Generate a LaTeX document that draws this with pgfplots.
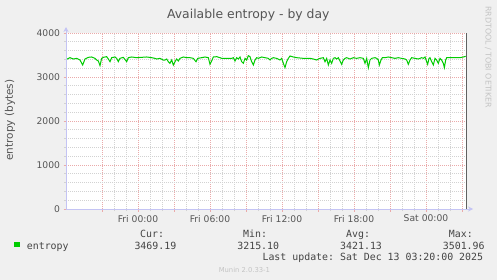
\documentclass[border=0pt]{standalone}
\usepackage{fontspec}
\setmainfont{DejaVu Sans}
\setmonofont{DejaVu Sans Mono}
\usepackage{pgfplots}
\pgfplotsset{compat=1.18}
\usetikzlibrary{arrows.meta}
\definecolor{bgc}{HTML}{F0F0F0}
\definecolor{txt}{HTML}{555555}
\definecolor{mono}{HTML}{444444}
\definecolor{majg}{HTML}{EAAAAA}
\definecolor{ming}{HTML}{D2D2D2}
\definecolor{axc}{HTML}{C4C4F4}
\definecolor{lg}{HTML}{00CC00}
\definecolor{faint}{HTML}{C4C4C4}
\begin{document}
\begin{tikzpicture}
\fill[bgc] (0pt,0pt) rectangle (497pt,-280pt);
\begin{axis}[
  name=ax,
  at={(66pt,-209pt)}, anchor=south west,
  scale only axis, width=400pt, height=176pt,
  xmin=-6, xmax=27.3333, ymin=0, ymax=4000,
  axis background/.style={fill=white},
  axis line style={draw=none},
  xtick={-3,0,...,27},
  xticklabels={,Fri 00:00,,Fri 06:00,,Fri 12:00,,Fri 18:00,,Sat 00:00,},
  minor x tick num=2,
  ytick={0,1000,...,4000},
  minor y tick num=4,
  scaled y ticks=false,
  /pgf/number format/1000 sep={},
  /pgf/number format/assume math mode=true,
  grid=both,
  major grid style={majg, line width=0.75pt, dash pattern=on 1pt off 1pt},
  minor grid style={ming, line width=0.75pt, dash pattern=on 1pt off 1pt},
  tick align=outside,
  xtick pos=lower, ytick pos=left,
  major tick length=2.5pt, minor tick length=2pt,
  major tick style={majg, line width=0.8pt, solid},
  minor tick style={ming, line width=0.8pt, solid},
  tick label style={font=\fontsize{9.2}{11}\selectfont, text=txt},
  xticklabel style={anchor=north, yshift=0pt},
  yticklabel style={anchor=east, xshift=0pt},
]
\addplot[lg, line width=1pt] coordinates {
(-6,3402) (-5.944,3402) (-5.667,3439) (-5.389,3409) (-5.111,3424) (-4.833,3386) (-4.611,3273) (-4.417,3409)
(-4.139,3447) (-3.861,3455) (-3.722,3439) (-3.583,3424) (-3.444,3386) (-3.306,3364) (-3.167,3258) (-3.028,3424)
(-2.889,3447) (-2.611,3462) (-2.472,3409) (-2.333,3348) (-2.194,3439) (-1.917,3455) (-1.778,3424) (-1.639,3348)
(-1.5,3424) (-1.222,3447) (-0.944,3348) (-0.806,3439) (-0.528,3455) (-0.111,3439) (0.306,3447) (0.722,3455)
(1.139,3439) (1.417,3424) (1.556,3409) (1.833,3424) (2.111,3386) (2.25,3386) (2.389,3409) (2.528,3348)
(2.667,3311) (2.806,3386) (2.944,3273) (3.083,3348) (3.222,3409) (3.361,3364) (3.5,3424) (3.639,3439)
(3.778,3455) (4.056,3439) (4.333,3439) (4.611,3424) (4.833,3348) (4.972,3424) (5.306,3439) (5.583,3455)
(5.861,3439) (6.0,3288) (6.139,3364) (6.278,3455) (6.556,3462) (6.833,3439) (6.972,3424) (7.806,3424)
(7.944,3439) (8.083,3364) (8.222,3439) (8.361,3409) (8.5,3455) (8.639,3348) (8.778,3311) (8.917,3424)
(9.056,3386) (9.194,3485) (9.333,3462) (9.472,3348) (9.611,3273) (9.75,3386) (9.889,3439) (10.028,3424)
(10.306,3455) (10.583,3439) (10.861,3424) (11.0,3386) (11.139,3424) (11.278,3439) (11.556,3424) (11.833,3386)
(11.972,3424) (12.111,3311) (12.25,3215) (12.389,3348) (12.528,3424) (12.667,3477) (12.944,3455) (13.222,3439)
(13.778,3424) (14.333,3424) (14.611,3409) (14.889,3386) (15.028,3409) (15.167,3424) (15.444,3439) (15.583,3348)
(15.722,3424) (15.861,3273) (16.0,3386) (16.139,3311) (16.278,3424) (16.417,3439) (16.556,3409) (16.694,3439)
(16.833,3364) (16.972,3288) (17.111,3386) (17.25,3424) (17.389,3439) (17.667,3409) (17.944,3439) (18.222,3424)
(18.5,3439) (18.778,3424) (18.917,3311) (19.056,3424) (19.194,3212) (19.333,3386) (19.472,3424) (19.75,3439)
(19.889,3424) (20.028,3386) (20.111,3273) (20.25,3386) (20.361,3439) (20.583,3439) (20.861,3455) (21.139,3439)
(21.417,3424) (21.694,3439) (21.972,3424) (22.25,3409) (22.389,3386) (22.528,3288) (22.667,3386) (22.806,3439)
(23.083,3424) (23.361,3409) (23.639,3439) (23.778,3424) (23.917,3455) (24.056,3348) (24.139,3288) (24.25,3424)
(24.333,3439) (24.472,3348) (24.611,3273) (24.75,3424) (24.889,3386) (25.028,3311) (25.167,3424) (25.306,3386)
(25.444,3311) (25.528,3212) (25.639,3386) (25.722,3439) (26.0,3439) (26.417,3439) (26.833,3439) (27.111,3455)
(27.306,3469)
};
\end{axis}
% axis lines
\draw[axc, line width=0.8pt, -{Stealth[length=5pt,width=5pt]}] (ax.south west) -- ([yshift=6pt]ax.north west);
\draw[axc, line width=0.8pt, -{Stealth[length=5pt,width=5pt]}] (ax.south west) -- ([xshift=7pt]ax.south east);
\draw[gray!75!black, line width=0.9pt] (ax.south east) -- (ax.north east);
% texts
\node[anchor=base, text=txt, font=\fontsize{12.4}{14}\selectfont, inner sep=0pt] at (248.3pt,-18.3pt) {Available entropy - by day};
\node[rotate=90, text=txt, font=\fontsize{10.5}{12}\selectfont, inner sep=0pt] at (10pt,-120pt) {entropy (bytes)};
\node[rotate=-90, text=faint, font=\fontsize{7.9}{9}\selectfont, inner sep=0pt] at (488.3pt,-57pt) {RRDTOOL / TOBI OETIKER};
\fill[lg] (14pt,-241.7pt) rectangle (20pt,-247.3pt);
\begin{scope}[every node/.style={inner sep=0pt, anchor=base west, text=mono, font=\fontsize{9.9}{11}\selectfont\ttfamily}]
\node at (26.7pt,-249.3pt) {entropy};
\node at (140pt,-237.3pt) {Cur:};
\node at (134.3pt,-249.3pt) {3469.19};
\node at (243pt,-237.3pt) {Min:};
\node at (237.2pt,-249.3pt) {3215.10};
\node at (346pt,-237.3pt) {Avg:};
\node at (340pt,-249.3pt) {3421.13};
\node at (448.7pt,-237.3pt) {Max:};
\node at (442.7pt,-249.3pt) {3501.96};
\node[anchor=base east] at (483.3pt,-260.7pt) {Last update: Sat Dec 13 03:20:00 2025};
\end{scope}
\node[anchor=base, inner sep=0pt, text=faint, font=\fontsize{6.8}{8}\selectfont] at (244.4pt,-272.7pt) {Munin 2.0.33-1};
\end{tikzpicture}
\end{document}
